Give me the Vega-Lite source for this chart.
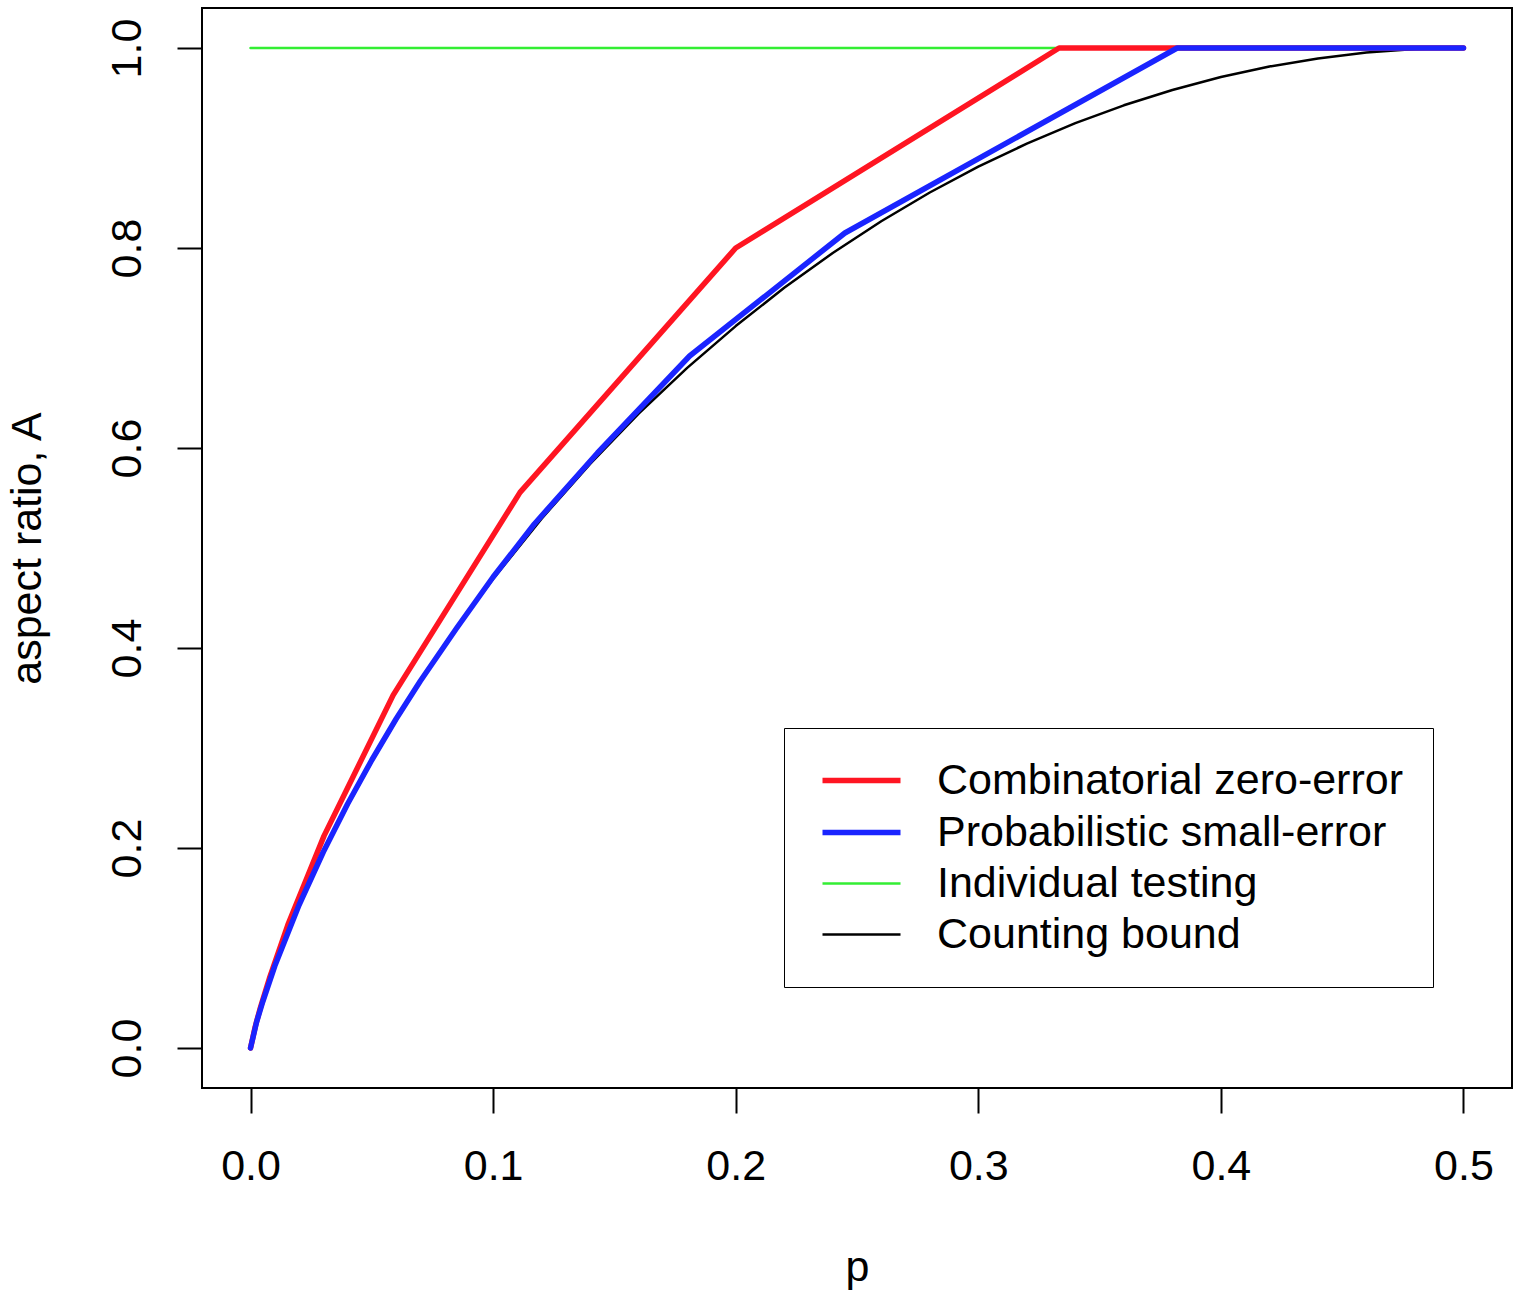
{
  "$schema": "https://vega.github.io/schema/vega-lite/v6.json",
  "width": 1310,
  "height": 1080,
  "autosize": {"type": "none"},
  "padding": {"left": 202, "top": 8, "right": 8, "bottom": 210},
  "background": "white",
  "config": {
    "view": {"stroke": "black", "strokeWidth": 2},
    "font": "Liberation Sans",
    "axis": {
      "domain": false,
      "grid": false,
      "ticks": true,
      "tickColor": "black",
      "tickWidth": 2,
      "tickSize": 25,
      "labelFont": "Liberation Sans",
      "labelFontSize": 43,
      "labelColor": "black",
      "titleFont": "Liberation Sans",
      "titleFontSize": 43,
      "titleFontWeight": "normal",
      "titleColor": "black"
    }
  },
  "data": {
    "values": [
      {"s": "Counting bound", "p": 0, "A": 0},
      {"s": "Counting bound", "p": 0.0005, "A": 0.0062},
      {"s": "Counting bound", "p": 0.001, "A": 0.0114},
      {"s": "Counting bound", "p": 0.0025, "A": 0.0252},
      {"s": "Counting bound", "p": 0.005, "A": 0.0454},
      {"s": "Counting bound", "p": 0.01, "A": 0.0808},
      {"s": "Counting bound", "p": 0.015, "A": 0.1124},
      {"s": "Counting bound", "p": 0.02, "A": 0.1414},
      {"s": "Counting bound", "p": 0.03, "A": 0.1944},
      {"s": "Counting bound", "p": 0.04, "A": 0.2423},
      {"s": "Counting bound", "p": 0.05, "A": 0.2864},
      {"s": "Counting bound", "p": 0.06, "A": 0.3274},
      {"s": "Counting bound", "p": 0.07, "A": 0.3659},
      {"s": "Counting bound", "p": 0.08, "A": 0.4022},
      {"s": "Counting bound", "p": 0.09, "A": 0.4365},
      {"s": "Counting bound", "p": 0.10, "A": 0.4690},
      {"s": "Counting bound", "p": 0.12, "A": 0.5294},
      {"s": "Counting bound", "p": 0.14, "A": 0.5842},
      {"s": "Counting bound", "p": 0.16, "A": 0.6343},
      {"s": "Counting bound", "p": 0.18, "A": 0.6801},
      {"s": "Counting bound", "p": 0.20, "A": 0.7219},
      {"s": "Counting bound", "p": 0.22, "A": 0.7602},
      {"s": "Counting bound", "p": 0.24, "A": 0.7950},
      {"s": "Counting bound", "p": 0.26, "A": 0.8267},
      {"s": "Counting bound", "p": 0.28, "A": 0.8555},
      {"s": "Counting bound", "p": 0.30, "A": 0.8813},
      {"s": "Counting bound", "p": 0.32, "A": 0.9044},
      {"s": "Counting bound", "p": 0.34, "A": 0.9248},
      {"s": "Counting bound", "p": 0.36, "A": 0.9427},
      {"s": "Counting bound", "p": 0.38, "A": 0.9580},
      {"s": "Counting bound", "p": 0.40, "A": 0.9710},
      {"s": "Counting bound", "p": 0.42, "A": 0.9815},
      {"s": "Counting bound", "p": 0.44, "A": 0.9896},
      {"s": "Counting bound", "p": 0.46, "A": 0.9954},
      {"s": "Counting bound", "p": 0.48, "A": 0.9989},
      {"s": "Counting bound", "p": 0.50, "A": 1.0},
      {"s": "Individual testing", "p": 0, "A": 1.0},
      {"s": "Individual testing", "p": 0.5, "A": 1.0},
      {"s": "Combinatorial zero-error", "p": 0, "A": 0},
      {"s": "Combinatorial zero-error", "p": 0.00195, "A": 0.0214},
      {"s": "Combinatorial zero-error", "p": 0.0039, "A": 0.0389},
      {"s": "Combinatorial zero-error", "p": 0.0078, "A": 0.0698},
      {"s": "Combinatorial zero-error", "p": 0.0154, "A": 0.1231},
      {"s": "Combinatorial zero-error", "p": 0.0303, "A": 0.2121},
      {"s": "Combinatorial zero-error", "p": 0.0588, "A": 0.3529},
      {"s": "Combinatorial zero-error", "p": 0.1111, "A": 0.5556},
      {"s": "Combinatorial zero-error", "p": 0.2, "A": 0.8},
      {"s": "Combinatorial zero-error", "p": 0.3333, "A": 1.0},
      {"s": "Combinatorial zero-error", "p": 0.5, "A": 1.0},
      {"s": "Probabilistic small-error", "p": 0, "A": 0},
      {"s": "Probabilistic small-error", "p": 0.0025, "A": 0.026},
      {"s": "Probabilistic small-error", "p": 0.005, "A": 0.046},
      {"s": "Probabilistic small-error", "p": 0.01, "A": 0.082},
      {"s": "Probabilistic small-error", "p": 0.02, "A": 0.143},
      {"s": "Probabilistic small-error", "p": 0.03, "A": 0.196},
      {"s": "Probabilistic small-error", "p": 0.04, "A": 0.244},
      {"s": "Probabilistic small-error", "p": 0.05, "A": 0.288},
      {"s": "Probabilistic small-error", "p": 0.06, "A": 0.329},
      {"s": "Probabilistic small-error", "p": 0.07, "A": 0.367},
      {"s": "Probabilistic small-error", "p": 0.085, "A": 0.42},
      {"s": "Probabilistic small-error", "p": 0.1, "A": 0.471},
      {"s": "Probabilistic small-error", "p": 0.117, "A": 0.524},
      {"s": "Probabilistic small-error", "p": 0.143, "A": 0.595},
      {"s": "Probabilistic small-error", "p": 0.181, "A": 0.692},
      {"s": "Probabilistic small-error", "p": 0.245, "A": 0.815},
      {"s": "Probabilistic small-error", "p": 0.382, "A": 1.0},
      {"s": "Probabilistic small-error", "p": 0.5, "A": 1.0}
    ]
  },
  "encoding": {
    "x": {
      "field": "p", "type": "quantitative",
      "scale": {"domain": [-0.02, 0.52], "nice": false, "zero": false},
      "axis": {
        "values": [0, 0.1, 0.2, 0.3, 0.4, 0.5],
        "format": ".1f",
        "labelPadding": 32,
        "labelBaseline": "top",
        "labelAlign": "center",
        "title": "p",
        "titleBaseline": "alphabetic",
        "titleAlign": "center",
        "titleX": 655,
        "titleY": 192
      }
    },
    "y": {
      "field": "A", "type": "quantitative",
      "scale": {"domain": [-0.04, 1.04], "nice": false, "zero": false},
      "axis": {
        "values": [0, 0.2, 0.4, 0.6, 0.8, 1.0],
        "format": ".1f",
        "labelAngle": 270,
        "labelAlign": "center",
        "labelBaseline": "alphabetic",
        "labelPadding": 37,
        "title": "aspect ratio, A",
        "titleAngle": 270,
        "titleAlign": "center",
        "titleBaseline": "alphabetic",
        "titleX": -162,
        "titleY": 540
      }
    },
    "color": {
      "field": "s", "type": "nominal",
      "scale": {
        "domain": ["Combinatorial zero-error", "Probabilistic small-error", "Individual testing", "Counting bound"],
        "range": ["#ff1522", "#1a24ff", "#33ee33", "#000000"]
      },
      "legend": {
        "title": null,
        "orient": "none",
        "legendX": 582,
        "legendY": 720,
        "padding": 30,
        "strokeColor": "black",
        "fillColor": "white",
        "symbolType": "M-2,0H2",
        "symbolSize": 1521,
        "symbolOffset": 25,
        "labelOffset": 53,
        "rowPadding": 7,
        "labelFont": "Liberation Sans",
        "labelFontSize": 43,
        "labelColor": "black",
        "labelLimit": 1000,
        "labelBaseline": "middle"
      }
    },
    "strokeWidth": {
      "field": "s", "type": "nominal",
      "scale": {
        "type": "ordinal",
        "domain": ["Combinatorial zero-error", "Probabilistic small-error", "Individual testing", "Counting bound"],
        "range": [5.5, 5.5, 2.5, 2.5]
      },
      "legend": {
        "title": null,
        "orient": "none",
        "legendX": 582,
        "legendY": 720,
        "padding": 30,
        "strokeColor": "black",
        "fillColor": "white",
        "symbolType": "M-2,0H2",
        "symbolSize": 1521,
        "symbolOffset": 25,
        "labelOffset": 53,
        "rowPadding": 7,
        "labelFont": "Liberation Sans",
        "labelFontSize": 43,
        "labelColor": "black",
        "labelLimit": 1000,
        "labelBaseline": "middle"
      }
    }
  },
  "layer": [
    {
      "transform": [{"filter": "datum.s === 'Counting bound'"}],
      "mark": {"type": "line", "strokeCap": "round", "strokeJoin": "round"}
    },
    {
      "transform": [{"filter": "datum.s === 'Individual testing'"}],
      "mark": {"type": "line", "strokeCap": "round", "strokeJoin": "round"}
    },
    {
      "transform": [{"filter": "datum.s === 'Combinatorial zero-error'"}],
      "mark": {"type": "line", "strokeCap": "round", "strokeJoin": "round"}
    },
    {
      "transform": [{"filter": "datum.s === 'Probabilistic small-error'"}],
      "mark": {"type": "line", "strokeCap": "round", "strokeJoin": "round"}
    }
  ]
}
